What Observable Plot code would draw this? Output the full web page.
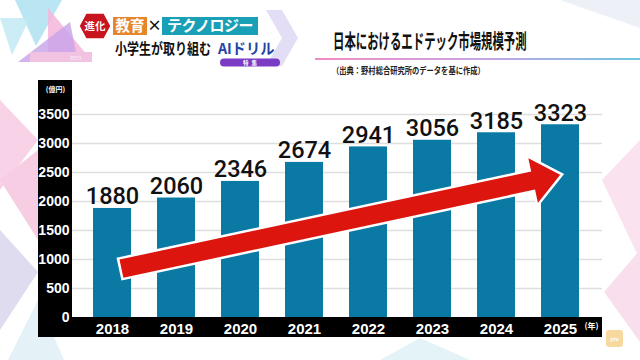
<!DOCTYPE html>
<html><head><meta charset="utf-8">
<script src="https://cdn.jsdelivr.net/npm/d3@7"></script>
<script src="https://cdn.jsdelivr.net/npm/@observablehq/plot@0.6"></script>
<style>
html,body{margin:0;padding:0;background:#fff;}
body{width:640px;height:360px;position:relative;overflow:hidden;font-family:"Noto Sans CJK JP","Noto Sans",sans-serif;}
#bg{position:absolute;left:0;top:0;}
#header{position:absolute;left:0;top:0;}
#chart{position:absolute;left:0;top:80px;}
.abs{position:absolute;}
</style></head><body>
<svg id="bg" width="640" height="360">
  <polygon points="15,0 62,0 36,46" fill="#a9def0" opacity="0.8"/>
  <polygon points="0,18 30,18 12,55" fill="#bfe8f4" opacity="0.8"/>
  <polygon points="48,8 88,56 48,56" fill="#f4b6da" opacity="0.85"/>
  <polygon points="18,62 70,22 78,62" fill="#c8a2ea" opacity="0.8"/>
  <rect x="30" y="52" width="62" height="10" fill="#f2c2e2"/>
  <polygon points="266,10 282,10 298,38 282,66 266,66 282,38" fill="#e3def5"/>
  <polygon points="560,0 640,0 640,28" fill="#eef0f8"/>
  <polygon points="0,100 38,140 0,190" fill="#f8d3e7"/>
  <polygon points="0,180 38,150 38,240" fill="#f7cde3"/>
  <polygon points="0,230 38,272 0,330" fill="#dfdcef"/>
  <polygon points="38,300 8,360 64,360" fill="#e4f2f7"/>
  <polygon points="602,180 640,140 640,260" fill="#fbe2ef"/>
  <polygon points="604,292 640,250 640,342" fill="#f9dfee"/>
  <polygon points="420,338 470,360 380,360" fill="#e3f3f8"/>
  <rect x="606" y="330" width="17" height="17" rx="3" fill="#f7d9a0"/>
</svg>
<svg id="header" width="640" height="80" font-family="Noto Sans CJK JP" font-weight="bold">
  <polygon points="86,13 104,13 111,26 104,39 86,39 79,26" fill="#c8141e" stroke="#fff" stroke-width="1.5"/>
  <text x="95" y="30" text-anchor="middle" font-size="10.5" fill="#fff">進化</text>
  <rect x="113" y="17" width="34" height="18" fill="#e6862a"/>
  <text x="130" y="31" text-anchor="middle" font-size="14.5" fill="#fff">教育</text>
  <text x="154.5" y="31" text-anchor="middle" font-size="14.5" fill="#111">×</text>
  <rect x="162" y="17" width="96" height="18" fill="#1aa0b6"/>
  <text x="210" y="31" text-anchor="middle" font-size="15" fill="#fff" letter-spacing="-0.5">テクノロジー</text>
  <text transform="translate(115,53.5) scale(0.8,1)" font-size="15" fill="#111">小学生が取り組む</text>
  <text transform="translate(218,53.5) scale(0.95,1)" font-size="15" fill="#2344a6">AIドリル</text>
  <rect x="220" y="58.5" width="60" height="8" rx="4" fill="#7a3cc4"/>
  <text x="251.5" y="65" text-anchor="middle" font-size="5.5" fill="#fff" letter-spacing="3">特集</text>
  <text x="70" y="60" font-size="8" font-style="italic" font-weight="normal" fill="#f6eaf8" font-family="Liberation Sans">ten.</text>
  <text transform="translate(333,49) scale(0.57,1)" font-size="20" fill="#111">日本におけるエドテック市場規模予測</text>
  <defs><linearGradient id="lg" x1="0" x2="1"><stop offset="0" stop-color="#f08cc4"/><stop offset="0.5" stop-color="#c9a3e0"/><stop offset="1" stop-color="#6ec6e0"/></linearGradient></defs>
  <rect x="315" y="58" width="325" height="2" fill="url(#lg)"/>
  <text transform="translate(332,74) scale(0.81,1)" font-size="9" fill="#222">（出典：野村総合研究所のデータを基に作成）</text>
</svg>
<div id="chart"></div>
<svg class="abs" style="left:600px;top:328px" width="30" height="22"><text x="14.5" y="13" text-anchor="middle" font-size="6" font-weight="bold" fill="#fff" font-family="Liberation Sans">ytv</text></svg>
<script>
const years = ["2018", "2019", "2020", "2021", "2022", "2023", "2024", "2025"];
const values = [1880, 2060, 2346, 2674, 2941, 3056, 3185, 3323];
const yTicks = [0, 500, 1000, 1500, 2000, 2500, 3000, 3500];
const unitLabel = "(億円)";
const yearLabel = "(年)";
const arrowFrom = {year: "2018", value: 830};
const arrowTo = {year: "2025", value: 2460};

const data = years.map((year, i) => ({year, value: values[i]}));

function bandsMark(index, scales, vals, dims) {
  const {width, height, marginLeft, marginRight, marginBottom} = dims;
  const g = d3.create("svg:g");
  const yb = height - marginBottom;
  g.append("rect").attr("x", marginLeft - 8).attr("y", 0)
    .attr("width", width - marginRight + 10 - (marginLeft - 8)).attr("height", yb).attr("fill", "#fff");
  g.append("rect").attr("x", marginLeft - 42).attr("y", 0)
    .attr("width", 34).attr("height", height - 3).attr("fill", "#000");
  g.append("rect").attr("x", marginLeft - 42).attr("y", yb)
    .attr("width", width - marginRight + 10 - (marginLeft - 42)).attr("height", height - 3 - yb).attr("fill", "#000");
  return g.node();
}

function arrowMark(index, scales) {
  const x = scales.x, y = scales.y;
  const step = x(years[1]) - x(years[0]);
  const x0 = x(arrowFrom.year) + step * 0.3 + 8, y0 = y(arrowFrom.value);
  const x1 = x(arrowTo.year) + step * 0.3 + 2, y1 = y(arrowTo.value);
  const len = Math.hypot(x1 - x0, y1 - y0);
  const ux = (x1 - x0) / len, uy = (y1 - y0) / len;
  const nx = -uy, ny = ux;
  const w = 10.5, H = 25.5, L = 31;
  const bx = x1 - ux * L, by = y1 - uy * L;
  const pts = [
    [x0 + nx * w, y0 + ny * w], [bx + nx * w, by + ny * w], [bx + nx * H, by + ny * H],
    [x1, y1],
    [bx - nx * H, by - ny * H], [bx - nx * w, by - ny * w], [x0 - nx * w, y0 - ny * w]
  ];
  const g = d3.create("svg:g");
  g.append("polygon").attr("points", pts.map(p => p.join(",")).join(" "))
    .attr("fill", "#dc150f").attr("stroke", "#fff").attr("stroke-width", 2.5).attr("stroke-linejoin", "miter");
  return g.node();
}

const chart = Plot.plot({
  width: 640, height: 260,
  marginLeft: 80, marginRight: 48, marginTop: 34, marginBottom: 23,
  style: {background: "transparent", overflow: "visible"},
  x: {domain: years, paddingInner: 0.4, paddingOuter: 0.2},
  y: {domain: [0, 3500]},
  marks: [
    bandsMark,
    Plot.ruleY(yTicks.slice(1), {y: d => d, stroke: "#dedede", strokeWidth: 1.6, insetLeft: -8, insetRight: -10}),
    Plot.barY(data, {x: "year", y: "value", fill: "#0a7aa5"}),
    Plot.text(data, {x: "year", y: "value", text: d => String(d.value), dy: -4, lineAnchor: "bottom",
      fontSize: 23.5, fontWeight: 500, fontFamily: "Roboto", fill: "#111"}),
    Plot.axisY({ticks: yTicks, tickFormat: d => String(d), tickSize: 0, tickPadding: 11, fill: "white", fontSize: 14,
      fontWeight: "bold", fontFamily: "Liberation Sans", label: null}),
    Plot.axisX({tickSize: 0, tickPadding: 6, fill: "white", fontSize: 15, fontWeight: "bold",
      fontFamily: "Liberation Sans", label: null}),
    Plot.text([unitLabel], {text: d => d, frameAnchor: "top-left", dx: -25, dy: -27, textAnchor: "middle", fill: "white",
      fontSize: 7, fontWeight: "bold", fontFamily: "Noto Sans CJK JP"}),
    Plot.text([yearLabel], {text: d => d, frameAnchor: "bottom-right", dx: 6, dy: 11, textAnchor: "end",
      fill: "white", fontSize: 8, fontWeight: "bold", fontFamily: "Noto Sans CJK JP"}),
    arrowMark
  ]
});
document.getElementById("chart").appendChild(chart);
</script>
</body></html>
